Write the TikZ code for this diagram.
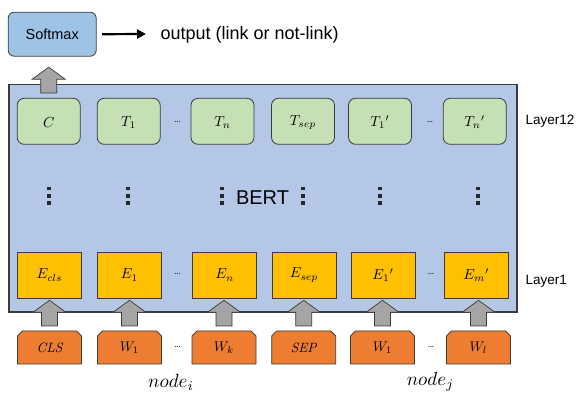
\documentclass[tikz,border=0pt]{standalone}
\usepackage{fontspec}
\setsansfont{Liberation Sans}
\usetikzlibrary{arrows.meta,calc}
\definecolor{lineC}{HTML}{3A3A3A}
\definecolor{softF}{HTML}{9DC3E6}
\definecolor{bertF}{HTML}{B4C7E7}
\definecolor{greenF}{HTML}{C5E0B4}
\definecolor{yellowF}{HTML}{FFC000}
\definecolor{orangeF}{HTML}{ED7D31}
\definecolor{greyF}{HTML}{A5A5A5}
\newcommand\blockup[2]{\draw[blockarr] let \p1=#1, \p2=#2 in
  (\x1-8pt,\y1) -- (\x1-8pt,\y2-12pt) -- (\x1-16.5pt,\y2-12pt) -- (\x1,\y2) --
  (\x1+16.5pt,\y2-12pt) -- (\x1+8pt,\y2-12pt) -- (\x1+8pt,\y1) -- cycle;}
\begin{document}
\begin{tikzpicture}[x=1pt,y=-1pt,
  every node/.style={inner sep=0pt,outer sep=0pt},
  bd/.style={draw=lineC,line width=0.8pt},
  softbox/.style={bd,fill=softF,rounded corners=6pt,minimum width=88pt,minimum height=44pt,font=\sffamily\fontsize{14.5}{16}\selectfont},
  bertbox/.style={draw=lineC,line width=1.2pt,fill=bertF,minimum width=508pt,minimum height=227.5pt},
  greenbox/.style={bd,fill=greenF,rounded corners=7pt,minimum width=63pt,minimum height=46pt},
  yellowbox/.style={bd,fill=yellowF,minimum width=64pt,minimum height=46pt},
  orangebox/.style={minimum width=64pt,minimum height=33pt},
  orangeshape/.style={bd,fill=orangeF,line join=miter},
  mlab/.style={scale=1.45},
  blockarr/.style={draw=lineC,line width=0.7pt,fill=greyF},
  sidelabel/.style={anchor=west,font=\sffamily\fontsize{13.5}{15}\selectfont},
  hdots/.style={font=\fontsize{10}{10}\selectfont},
  vdot/.style={fill=black!85}
]
\useasboundingbox (0,0) rectangle (577,392);

% BERT container
\node[bertbox] (bert) at (263,198.2) {};
\node[font=\sffamily\fontsize{20}{22}\selectfont] (bertlbl) at (262.5,198) {BERT};

% softmax and output
\node[softbox] (soft) at (52.2,34.2) {Softmax};
\node[anchor=west,font=\sffamily\fontsize{18}{20}\selectfont] (out) at (160.5,34.5) {output (link or not-link)};
\draw[line width=2.2pt,-{Triangle[length=9pt,width=9pt]}] ($(soft.east)+(6,0)$) -- ($(out.west)+(-14.5,-0.5)$);

% top row (Layer12)
\foreach \n/\x in {1/48.7,2/128.7,3/222.5,4/303,5/380,6/474.7}
  \node[greenbox] (g\n) at (\x,121.3) {};
\foreach \n/\t in {1/{$C$},2/{$T_1$},3/{$T_n$},4/{$T_{sep}$},5/{$T_1{}'$},6/{$T_n{}'$}}
  \node[mlab] (gt\n) at ($(g\n)+(0,1)$) {\t};
% bottom row (Layer1)
\foreach \n/\x in {1/49.5,2/129.5,3/224.7,4/304,5/383,6/476.3}
  \node[yellowbox] (e\n) at (\x,275) {};
\foreach \n/\t in {1/{$E_{cls}$},2/{$E_1$},3/{$E_n$},4/{$E_{sep}$},5/{$E_1{}'$},6/{$E_m{}'$}}
  \node[mlab] (et\n) at (e\n) {\t};
% inputs (top corners cut)
\foreach \n/\x in {1/49.5,2/129.5,3/224,4/303.7,5/382.5,6/478.5}{
  \node[orangebox] (w\n) at (\x,347.4) {};
  \draw[orangeshape] (w\n.south west) -- ($(w\n.north west)+(0,5)$) -- ($(w\n.north west)+(5,0)$)
    -- ($(w\n.north east)+(-5,0)$) -- ($(w\n.north east)+(0,5)$) -- (w\n.south east) -- cycle;
}
\foreach \n/\t/\s in {1/{$\mathit{CLS}$}/1.35,2/{$W_1$}/1.4,3/{$W_k$}/1.4,4/{$\mathit{SEP}$}/1.35,5/{$W_1$}/1.4,6/{$W_l$}/1.4}
  \node[scale=\s] (wt\n) at ($(w\n)+(0,0.5)$) {\t};

% block arrows
\blockup{($(g1.north)+(0,-5.3)$)}{($(soft.south)+(0,11)$)}
\foreach \i in {1,...,6}{
  \blockup{($(w\i.north)+(0,-5)$)}{($(e\i.south)+(0,2.3)$)}
}

% horizontal dots
\node[hdots] (d1) at (177.5,122) {\ldots};
\node[hdots] (d2) at (430,122) {\ldots};
\node[hdots] (d3) at (177.5,274) {\ldots};
\node[hdots] (d4) at (431,274) {\ldots};
\node[hdots] (d5) at (177.5,347) {\ldots};
\node[hdots] (d6) at (431,347) {\ldots};

% vertical dots
\foreach \x in {48.7,128,222,303,380,478}{
  \foreach \y in {188.5,195.7,202.7}{
    \fill[vdot] (\x-1.8,\y-1.8) rectangle (\x+1.8,\y+1.8);
  }
}

% side labels
\node[sidelabel] (l12) at (525.5,121) {Layer12};
\node[sidelabel] (l1) at (525.5,281) {Layer1};

% node labels
\node[scale=1.9] (ni) at (171,382) {$node_i$};
\node[scale=1.9] (nj) at (430.5,382) {$node_j$};
\end{tikzpicture}
\end{document}
